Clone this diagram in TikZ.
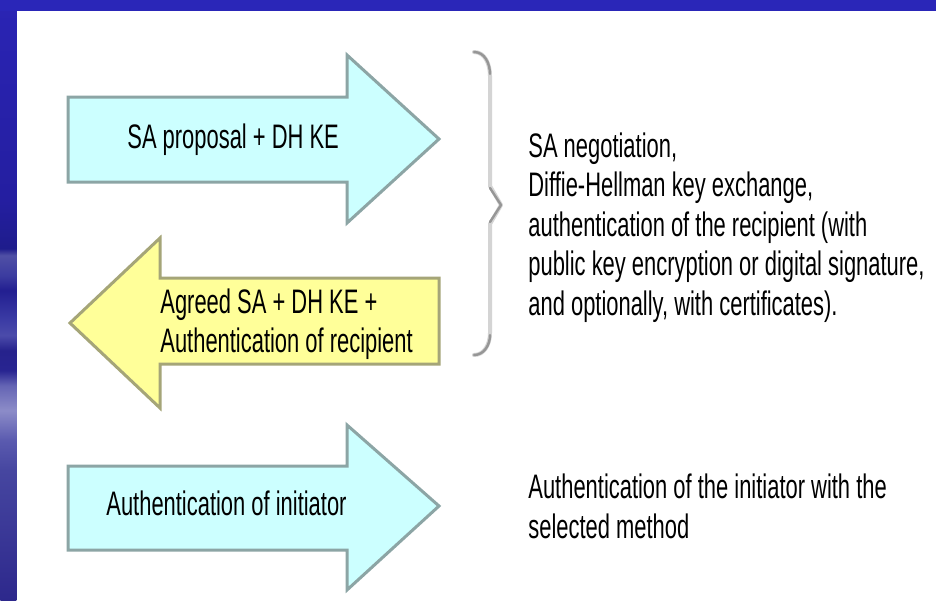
\documentclass[tikz,border=0pt]{standalone}
\usepackage{fontspec}
\setmainfont{Liberation Sans}[FakeStretch=0.645]
\begin{document}
% slide-frame colours
\definecolor{frameblue}{RGB}{42,38,184}
\definecolor{sA}{RGB}{45,40,140}
\definecolor{sB}{RGB}{70,70,160}
\definecolor{sC}{RGB}{90,90,175}
\definecolor{sD}{RGB}{140,140,200}
\definecolor{sE}{RGB}{100,100,180}
\definecolor{sF}{RGB}{40,36,145}
\definecolor{sG}{RGB}{38,34,140}
\definecolor{sH}{RGB}{75,75,170}
\definecolor{sI}{RGB}{60,60,165}
\definecolor{sJ}{RGB}{34,30,145}
\definecolor{sK}{RGB}{60,60,160}
\definecolor{sL}{RGB}{80,80,165}
\definecolor{sM}{RGB}{30,28,140}
\definecolor{sN}{RGB}{36,30,160}
\definecolor{sO}{RGB}{42,36,180}
% diagram colours
\definecolor{cyanfill}{RGB}{204,255,255}
\definecolor{cyanedge}{RGB}{140,165,165}
\definecolor{yellowfill}{RGB}{255,255,153}
\definecolor{yellowedge}{RGB}{165,165,120}
\definecolor{bracegray}{RGB}{212,212,212}
\definecolor{bracedark}{RGB}{150,150,150}
\pgfdeclareverticalshading{leftstrip}{8pt}{%
  color(0pt)=(sA); color(65pt)=(sB); color(80pt)=(sC); color(95pt)=(sD);
  color(107.5pt)=(sE); color(115pt)=(sF); color(125pt)=(sG);
  color(132.5pt)=(sH); color(140pt)=(sI); color(155pt)=(sJ);
  color(162.5pt)=(sK); color(172.5pt)=(sL); color(176pt)=(sM);
  color(200pt)=(sN); color(300pt)=(sO)}
\begin{tikzpicture}[x=0.5pt,y=-0.5pt,
  arrowcyan/.style={fill=cyanfill,draw=cyanedge,line width=1.5pt,line join=miter},
  arrowyellow/.style={fill=yellowfill,draw=yellowedge,line width=1.5pt,line join=miter},
  label/.style={inner sep=0pt,anchor=base west,align=left,
    font=\fontsize{17}{19.75}\selectfont},
  bracestyle/.style={draw=bracegray,line width=2pt,line cap=round,line join=round}]
\useasboundingbox (0,0) rectangle (936,600);
% slide background
\fill[white] (0,0) rectangle (936,600);
\node[inner sep=0pt,anchor=north west] (strip) at (0,0) {\pgfuseshading{leftstrip}};
\fill[frameblue] (0,0) rectangle (936,11);

% first message: initiator to responder
\draw[arrowcyan] (68,97) -- (347,97) -- (347,55) -- (439,139) -- (347,223)
  -- (347,182) -- (68,182) -- cycle;
\node[label] (m1) at (127,148) {SA proposal + DH KE};

% second message: responder to initiator (anchor = baseline of last line)
\draw[arrowyellow] (439,278) -- (160,278) -- (160,238) -- (70,323) -- (160,408)
  -- (160,364) -- (439,364) -- cycle;
\node[label] (m2) at (160,352.5) {Agreed SA + DH KE +\\Authentication of recipient};

% third message: initiator to responder
\draw[arrowcyan] (68,466) -- (347,466) -- (347,425) -- (439,506) -- (347,590)
  -- (347,550) -- (68,550) -- cycle;
\node[label] (m3) at (106,515) {Authentication of initiator};

% brace grouping the first two messages
\draw[bracestyle] (474,52) to[out=0,in=90] (490,76) -- (490,186) -- (501,205)
  -- (490,224) -- (490,333) to[out=-90,in=0] (474,355);
\draw[draw=bracedark,line width=1.2pt,line cap=round]
  (474,52) to[out=0,in=90] (490,74);
\draw[draw=bracedark,line width=1.2pt,line cap=round]
  (490,188) -- (501,205) -- (490,222);
\draw[draw=bracedark,line width=1.2pt,line cap=round]
  (490,335) to[out=-90,in=0] (474,355);

% descriptions (anchor = baseline of last line)
\node[label] (d1) at (528,315) {SA negotiation,\\Diffie-Hellman key exchange,\\
  authentication of the recipient (with\\
  public key encryption or digital signature,\\
  and optionally, with certificates).};
\node[label] (d2) at (528,538) {Authentication of the initiator with the\\selected method};
\end{tikzpicture}
\end{document}
